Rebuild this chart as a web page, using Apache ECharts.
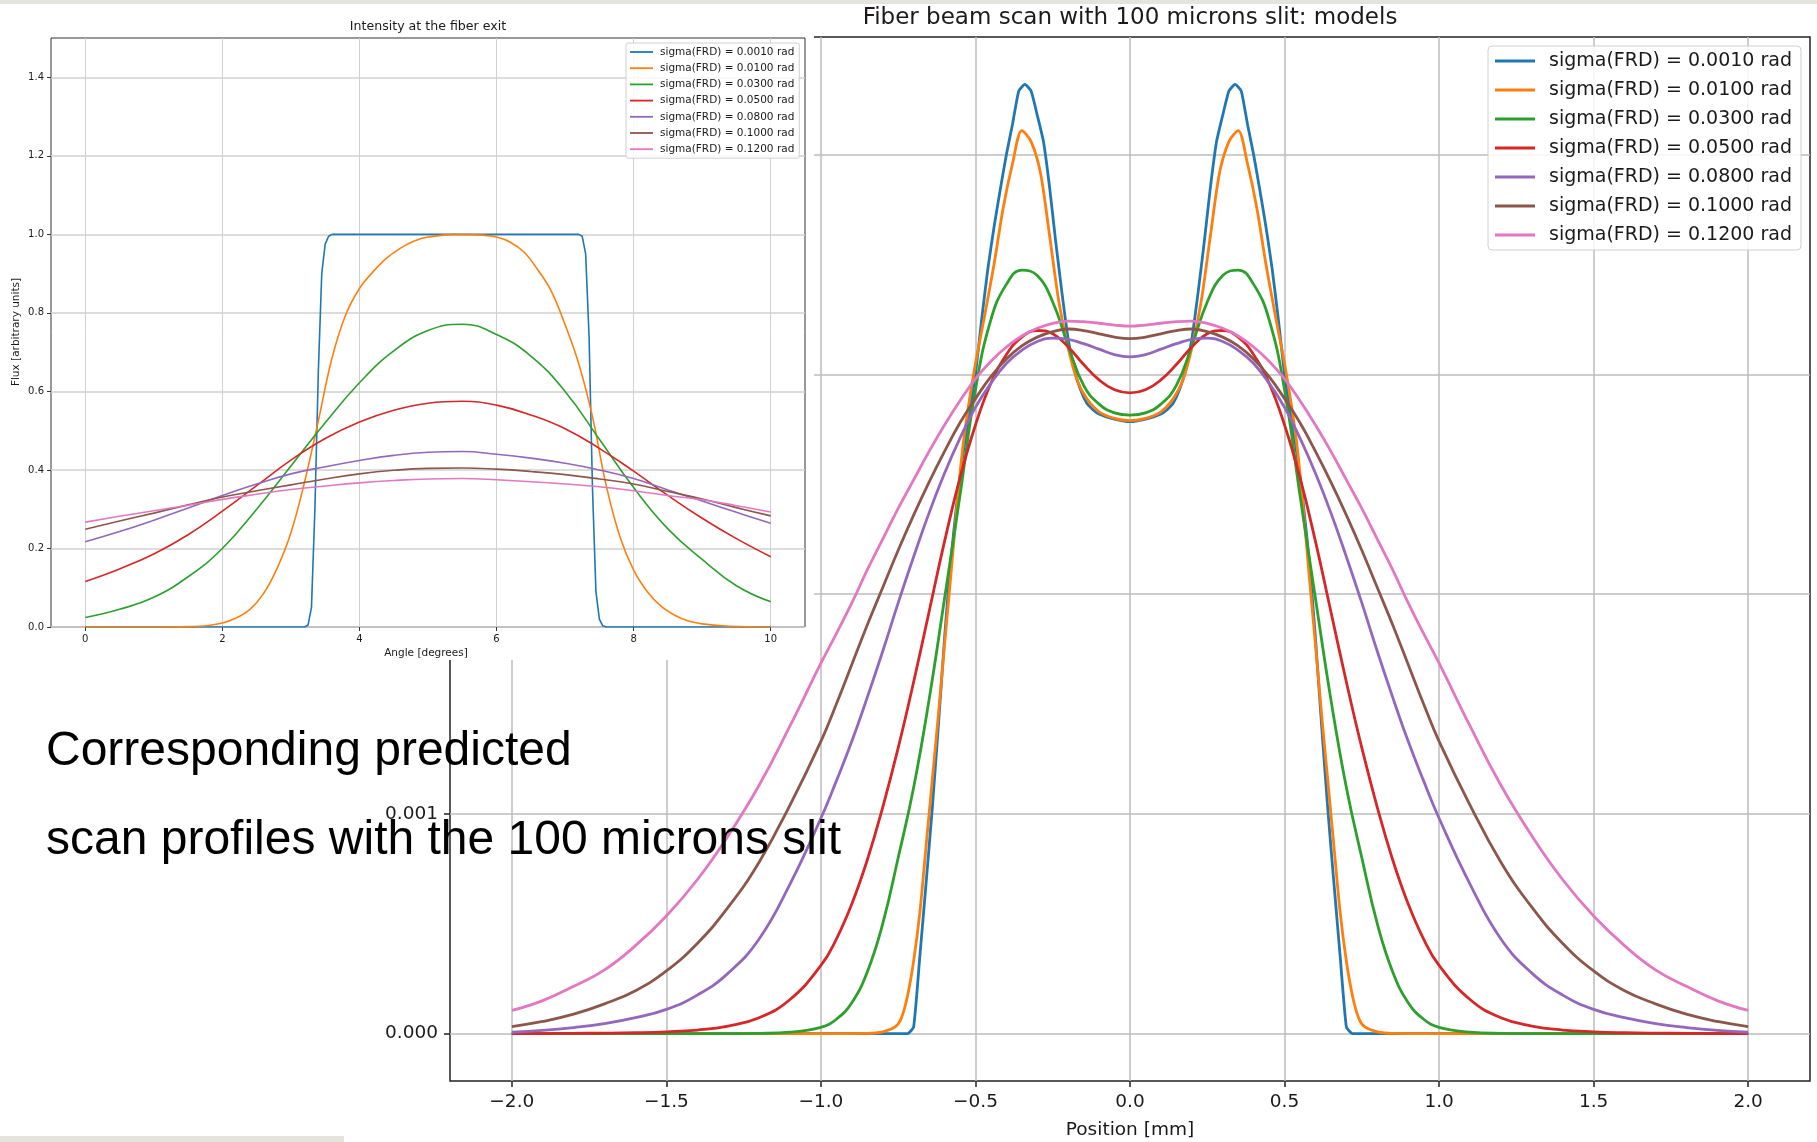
<!DOCTYPE html>
<html>
<head>
<meta charset="utf-8">
<title>Fiber beam scan</title>
<script src="https://cdn.jsdelivr.net/npm/echarts@6.0.0/dist/echarts.min.js"></script>
<style>
  body { margin: 0; background: #fff; }
  #scan { position: absolute; left: 0; top: 0; width: 1817px; height: 1142px; }
  #fiber { position: absolute; left: 0; top: 0; width: 814px; height: 660px; background: #fff; }
  .strip { position: absolute; background: #e4e4dc; }
</style>
</head>
<body>
<div id="scan"></div>
<div id="fiber"></div>
<div class="strip" style="left:0;top:0;width:1817px;height:4px"></div>
<div class="strip" style="left:0;top:1136px;width:344px;height:6px"></div>
<script>
// tab10 colours, one per FRD value
const colors = ['#1f77b4', '#ff7f0e', '#2ca02c', '#d62728', '#9467bd', '#8c564b', '#e377c2'];
const labels = [
  'sigma(FRD) = 0.0010 rad', 'sigma(FRD) = 0.0100 rad', 'sigma(FRD) = 0.0300 rad',
  'sigma(FRD) = 0.0500 rad', 'sigma(FRD) = 0.0800 rad', 'sigma(FRD) = 0.1000 rad',
  'sigma(FRD) = 0.1200 rad'
];

// tick values
const angleTicks = [0, 2, 4, 6, 8, 10];
const fluxTicks = [0, 0.2, 0.4, 0.6, 0.8, 1.0, 1.2, 1.4];
const posTicks = [-2.0, -1.5, -1.0, -0.5, 0, 0.5, 1.0, 1.5, 2.0];
const scanTicks = [0, 0.001, 0.002, 0.003, 0.004];

// ---- left panel: intensity at the fiber exit (angle in degrees, flux) ----
const angle = [0, 0.5, 1, 1.5, 2, 2.5, 3, 3.5, 4, 4.5, 5, 5.5, 6, 6.5, 7, 7.5, 8, 8.5, 9, 9.5, 10];
const angleBlue = [0, 3.2, 3.25, 3.3, 3.35, 3.4, 3.45, 3.5, 3.55, 3.6, 7.2, 7.25, 7.3, 7.35, 7.4, 7.45, 7.5, 7.55, 7.6, 10];
const fluxBlue = [0, 0, 0.005, 0.05, 0.3, 0.65, 0.9, 0.975, 0.995, 1.0, 1.0, 0.995, 0.95, 0.74, 0.35, 0.09, 0.02, 0.003, 0, 0];
const angleOrange = [0, 1.0, 1.5, 1.8, 2.0, 2.2, 2.4, 2.6, 2.8, 3.0, 3.2, 3.4, 3.6, 3.8, 4.0, 4.2, 4.4, 4.6, 4.8, 5.0, 5.4,
  5.8, 6.0, 6.2, 6.4, 6.6, 6.8, 7.0, 7.2, 7.4, 7.6, 7.8, 8.0, 8.2, 8.4, 8.6, 8.8, 9.0, 9.4, 10];
const fluxOrange = [0, 0, 0.001, 0.004, 0.01, 0.023, 0.044, 0.085, 0.15, 0.24, 0.37, 0.525, 0.685, 0.795, 0.862, 0.905, 0.94, 0.965, 0.983, 0.993, 1.0,
  0.998, 0.993, 0.98, 0.955, 0.91, 0.855, 0.77, 0.67, 0.535, 0.36, 0.23, 0.145, 0.09, 0.053, 0.03, 0.015, 0.008, 0.002, 0];
const fluxGreen = [0.024, 0.045, 0.076, 0.128, 0.2, 0.3, 0.41, 0.52, 0.622, 0.703, 0.755, 0.771, 0.745, 0.69, 0.6, 0.478, 0.355, 0.25, 0.172, 0.105, 0.064];
const fluxRed = [0.116, 0.148, 0.186, 0.235, 0.295, 0.36, 0.425, 0.48, 0.522, 0.552, 0.57, 0.575, 0.565, 0.54, 0.505, 0.455, 0.397, 0.335, 0.277, 0.225, 0.179];
const fluxPurple = [0.217, 0.243, 0.272, 0.303, 0.335, 0.364, 0.39, 0.408, 0.424, 0.437, 0.445, 0.447, 0.44, 0.43, 0.417, 0.4, 0.378, 0.349, 0.321, 0.292, 0.264];
const fluxBrown = [0.249, 0.27, 0.29, 0.311, 0.331, 0.347, 0.362, 0.377, 0.39, 0.399, 0.404, 0.405, 0.402, 0.396, 0.388, 0.377, 0.364, 0.345, 0.326, 0.304, 0.283];
const fluxPink = [0.267, 0.282, 0.296, 0.31, 0.325, 0.338, 0.35, 0.359, 0.367, 0.373, 0.377, 0.378, 0.375, 0.37, 0.364, 0.357, 0.347, 0.335, 0.324, 0.309, 0.293];

// ---- right panel: scan profiles (position in mm, signal in units of 1e-3) ----
const SCAN_UNIT = 1e-3;
const posBlue = [-2.0, -0.72, -0.70, -0.68, -0.66, -0.64, -0.62, -0.60, -0.58, -0.56, -0.54, -0.52, -0.50, -0.48, -0.46, -0.44,
  -0.42, -0.40, -0.38, -0.36, -0.34, -0.32, -0.30, -0.28, -0.26, -0.24, -0.22, -0.20, -0.18, -0.16, -0.14, -0.12, -0.10, -0.06, 0,
  0.06, 0.10, 0.12, 0.14, 0.16, 0.18, 0.20, 0.22, 0.24, 0.26, 0.28, 0.30, 0.32, 0.34, 0.36, 0.38, 0.40, 0.42, 0.44, 0.46, 0.48,
  0.50, 0.52, 0.54, 0.56, 0.58, 0.60, 0.62, 0.64, 0.66, 0.68, 0.70, 0.72, 2.0];
const scanBlue = [0, 0, 0.03, 0.35, 0.68, 1.02, 1.4, 1.8, 2.15, 2.42, 2.64, 2.82, 3.0, 3.25, 3.48, 3.67,
  3.84, 4.0, 4.14, 4.29, 4.32, 4.29, 4.18, 4.06, 3.85, 3.6, 3.37, 3.16, 3.02, 2.93, 2.87, 2.84, 2.82, 2.8, 2.785,
  2.8, 2.82, 2.84, 2.87, 2.93, 3.02, 3.16, 3.37, 3.6, 3.85, 4.06, 4.18, 4.29, 4.32, 4.29, 4.14, 4.0, 3.84, 3.67, 3.48, 3.25,
  3.0, 2.82, 2.64, 2.42, 2.15, 1.8, 1.4, 1.02, 0.68, 0.35, 0.03, 0, 0];
const posOrange = [-2.0, -1.0, -0.85, -0.8, -0.76, -0.74, -0.72, -0.70, -0.68, -0.66, -0.64, -0.62, -0.60, -0.58, -0.56, -0.54,
  -0.52, -0.50, -0.47, -0.44, -0.41, -0.38, -0.35, -0.32, -0.29, -0.26, -0.23, -0.20, -0.17, -0.14, -0.10, -0.05, 0,
  0.05, 0.10, 0.14, 0.17, 0.20, 0.23, 0.26, 0.29, 0.32, 0.35, 0.38, 0.41, 0.44, 0.47, 0.50, 0.52, 0.54, 0.56, 0.58, 0.60,
  0.62, 0.64, 0.66, 0.68, 0.70, 0.72, 0.74, 0.76, 0.8, 0.85, 1.0, 2.0];
const scanOrange = [0, 0, 0.001, 0.008, 0.03, 0.07, 0.17, 0.33, 0.55, 0.85, 1.15, 1.45, 1.77, 2.08, 2.4, 2.68,
  2.88, 3.05, 3.27, 3.5, 3.76, 3.96, 4.11, 4.06, 3.92, 3.63, 3.33, 3.12, 2.97, 2.89, 2.83, 2.8, 2.79,
  2.8, 2.83, 2.89, 2.97, 3.12, 3.33, 3.63, 3.92, 4.06, 4.11, 3.96, 3.76, 3.5, 3.27, 3.05, 2.88, 2.68, 2.4, 2.08, 1.77,
  1.45, 1.15, 0.85, 0.55, 0.33, 0.17, 0.07, 0.03, 0.008, 0.001, 0, 0];
const scanPos = [-2.0, -1.9, -1.8, -1.7, -1.6, -1.5, -1.4, -1.3, -1.2, -1.1, -1.0, -0.95, -0.9, -0.85, -0.8, -0.75, -0.7,
  -0.65, -0.6, -0.55, -0.5, -0.45, -0.4, -0.35, -0.3, -0.25, -0.2, -0.15, -0.1, -0.05, 0,
  0.05, 0.1, 0.15, 0.2, 0.25, 0.3, 0.35, 0.4, 0.45, 0.5, 0.55, 0.6, 0.65, 0.7, 0.75, 0.8, 0.85, 0.9, 0.95,
  1.0, 1.1, 1.2, 1.3, 1.4, 1.5, 1.6, 1.7, 1.8, 1.9, 2.0];
const scanGreen = [0, 0, 0, 0, 0, 0, 0, 0, 0.001, 0.006, 0.028, 0.065, 0.14, 0.28, 0.5, 0.8, 1.12,
  1.52, 1.98, 2.45, 2.93, 3.25, 3.41, 3.475, 3.45, 3.33, 3.13, 2.95, 2.865, 2.825, 2.815,
  2.825, 2.865, 2.95, 3.13, 3.33, 3.45, 3.475, 3.41, 3.25, 2.93, 2.45, 1.98, 1.52, 1.12, 0.8, 0.5, 0.28, 0.14, 0.065,
  0.028, 0.006, 0.001, 0, 0, 0, 0, 0, 0, 0, 0];
const scanRed = [0, 0, 0.001, 0.002, 0.004, 0.008, 0.016, 0.034, 0.072, 0.155, 0.31, 0.43, 0.59, 0.79, 1.03, 1.3, 1.6,
  1.92, 2.24, 2.53, 2.77, 2.96, 3.09, 3.17, 3.2, 3.185, 3.125, 3.045, 2.975, 2.93, 2.916,
  2.93, 2.975, 3.045, 3.125, 3.185, 3.2, 3.17, 3.09, 2.96, 2.77, 2.53, 2.24, 1.92, 1.6, 1.3, 1.03, 0.79, 0.59, 0.43,
  0.31, 0.155, 0.072, 0.034, 0.016, 0.008, 0.004, 0.002, 0.001, 0, 0];
const scanPurple = [0.006, 0.014, 0.027, 0.045, 0.072, 0.11, 0.175, 0.275, 0.43, 0.68, 0.98, 1.15, 1.33, 1.53, 1.74, 1.96, 2.17,
  2.37, 2.55, 2.71, 2.85, 2.96, 3.05, 3.11, 3.15, 3.165, 3.16, 3.14, 3.115, 3.09, 3.08,
  3.09, 3.115, 3.14, 3.16, 3.165, 3.15, 3.11, 3.05, 2.96, 2.85, 2.71, 2.55, 2.37, 2.17, 1.96, 1.74, 1.53, 1.33, 1.15,
  0.98, 0.68, 0.43, 0.275, 0.175, 0.11, 0.072, 0.045, 0.027, 0.014, 0.006];
const scanBrown = [0.032, 0.055, 0.088, 0.135, 0.195, 0.285, 0.41, 0.575, 0.78, 1.04, 1.33, 1.5, 1.68, 1.86, 2.03, 2.2, 2.36,
  2.51, 2.65, 2.78, 2.89, 2.99, 3.07, 3.13, 3.17, 3.195, 3.207, 3.2, 3.185, 3.17, 3.163,
  3.17, 3.185, 3.2, 3.207, 3.195, 3.17, 3.13, 3.07, 2.99, 2.89, 2.78, 2.65, 2.51, 2.36, 2.2, 2.03, 1.86, 1.68, 1.5,
  1.33, 1.04, 0.78, 0.575, 0.41, 0.285, 0.195, 0.135, 0.088, 0.055, 0.032];
const scanPink = [0.105, 0.15, 0.215, 0.29, 0.40, 0.535, 0.70, 0.9, 1.13, 1.40, 1.686, 1.82, 1.96, 2.11, 2.25, 2.39, 2.52,
  2.65, 2.77, 2.88, 2.98, 3.06, 3.125, 3.175, 3.21, 3.233, 3.243, 3.24, 3.233, 3.225, 3.22,
  3.225, 3.233, 3.24, 3.243, 3.233, 3.21, 3.175, 3.125, 3.06, 2.98, 2.88, 2.77, 2.65, 2.52, 2.39, 2.25, 2.11, 1.96, 1.82,
  1.686, 1.40, 1.13, 0.9, 0.70, 0.535, 0.40, 0.29, 0.215, 0.15, 0.105];

function pairs(xs, ys, k) {
  return xs.map(function (x, i) { return [x, ys[i] * (k || 1)]; });
}

const MPL = 'DejaVu Sans';
const ink = '#1a1a1a';

// --------- right: scan with the 100 micron slit ---------
const scanLines = [
  [posBlue, scanBlue, 0.15], [posOrange, scanOrange, 0.3], [scanPos, scanGreen, 0.45], [scanPos, scanRed, 0.45],
  [scanPos, scanPurple, 0.45], [scanPos, scanBrown, 0.45], [scanPos, scanPink, 0.45]
];

const scanChart = echarts.init(document.getElementById('scan'));
scanChart.setOption({
  animation: false,
  grid: {
    left: 450, right: 7, top: 37, bottom: 61,
    show: true, borderColor: '#222', borderWidth: 1.5,
    containLabel: false, outerBoundsMode: 'none'
  },
  xAxis: {
    type: 'value', min: -2.2, max: 2.2, splitNumber: 9,
    axisLine: { show: false, onZero: false },
    axisTick: { show: true, inside: false, length: 6, customValues: posTicks, lineStyle: { color: '#222', width: 1.5 } },
    axisLabel: {
      margin: 12, fontSize: 18.5, fontFamily: MPL, color: ink, customValues: posTicks,
      formatter: function (v) {
        return (v < -1e-9 ? '\u2212' : '') + Math.abs(v).toFixed(1);
      }
    },
    splitLine: { show: true, lineStyle: { color: '#bdbdbd', width: 1.5 } }
  },
  yAxis: {
    type: 'value', min: -0.000216, max: 0.004536, splitNumber: 5,
    axisLine: { show: false, onZero: false },
    axisTick: { show: true, inside: false, length: 6, customValues: scanTicks, lineStyle: { color: '#222', width: 1.5 } },
    axisLabel: {
      margin: 12, fontSize: 18.5, fontFamily: MPL, color: ink, customValues: scanTicks,
      formatter: function (v) { return v.toFixed(3); }
    },
    splitLine: { show: true, lineStyle: { color: '#bdbdbd', width: 1.5 } }
  },
  legend: {
    orient: 'vertical', left: 1488, top: 46,
    padding: [5, 9, 5, 7], itemGap: 9,
    icon: 'rect', itemWidth: 40, itemHeight: 3,
    backgroundColor: 'rgba(255,255,255,0.85)', borderColor: '#d0d0d0', borderWidth: 1, borderRadius: 4,
    textStyle: { fontSize: 19, fontFamily: MPL, color: ink, lineHeight: 20, padding: [0, 0, 0, 9] },
    data: labels
  },
  graphic: [
    { type: 'text', x: 1130, y: 18, style: { text: 'Fiber beam scan with 100 microns slit: models',
      fontSize: 23, fontFamily: MPL, fill: ink, align: 'center', verticalAlign: 'middle' } },
    { type: 'text', x: 1130, y: 1130, style: { text: 'Position [mm]',
      fontSize: 18.5, fontFamily: MPL, fill: ink, align: 'center', verticalAlign: 'middle' } },
    { type: 'text', x: 46, y: 752, z: 100, style: { text: 'Corresponding predicted',
      fontSize: 48, fontFamily: 'Liberation Sans', fill: '#000', align: 'left', verticalAlign: 'middle' } },
    { type: 'text', x: 46, y: 841, z: 100, style: { text: 'scan profiles with the 100 microns slit',
      fontSize: 48, fontFamily: 'Liberation Sans', fill: '#000', align: 'left', verticalAlign: 'middle' } }
  ],
  series: scanLines.map(function (d, i) {
    return {
      name: labels[i], type: 'line', symbol: 'none', showSymbol: false,
      smooth: d[2],
      data: pairs(d[0], d[1], SCAN_UNIT),
      lineStyle: { width: 2.8, color: colors[i] }, itemStyle: { color: colors[i] },
      z: 2 + i
    };
  })
});

// --------- left: intensity at the fiber exit ---------
const fiberLines = [
  [angleBlue, fluxBlue, false], [angleOrange, fluxOrange, 0.4], [angle, fluxGreen, 0.45], [angle, fluxRed, 0.45],
  [angle, fluxPurple, 0.45], [angle, fluxBrown, 0.45], [angle, fluxPink, 0.45]
];

const fiberChart = echarts.init(document.getElementById('fiber'));
fiberChart.setOption({
  animation: false,
  grid: {
    left: 51, right: 9, top: 38, bottom: 33,
    show: true, borderColor: '#333', borderWidth: 1,
    containLabel: false, outerBoundsMode: 'none'
  },
  xAxis: {
    type: 'value', min: -0.5, max: 10.5, splitNumber: 5,
    axisLine: { show: false, onZero: false },
    axisTick: { show: true, inside: false, length: 4, customValues: angleTicks, lineStyle: { color: '#333' } },
    axisLabel: {
      margin: 7, fontSize: 10, fontFamily: MPL, color: ink, customValues: angleTicks,
      formatter: function (v) { return String(v); }
    },
    splitLine: { show: true, lineStyle: { color: '#d0d0d0', width: 1 } }
  },
  yAxis: {
    type: 'value', min: 0, max: 1.5, interval: 0.2,
    axisLine: { show: false, onZero: false },
    axisTick: { show: true, inside: false, length: 4, customValues: fluxTicks, lineStyle: { color: '#333' } },
    axisLabel: {
      margin: 7, fontSize: 10, fontFamily: MPL, color: ink, customValues: fluxTicks,
      formatter: function (v) { return v.toFixed(1); }
    },
    splitLine: { show: true, lineStyle: { color: '#d0d0d0', width: 1.5 } }
  },
  legend: {
    orient: 'vertical', left: 626, top: 43,
    padding: [3, 5, 3, 4], itemGap: 4.2,
    icon: 'rect', itemWidth: 23, itemHeight: 1.8,
    backgroundColor: 'rgba(255,255,255,0.85)', borderColor: '#d0d0d0', borderWidth: 1, borderRadius: 2,
    textStyle: { fontSize: 10.5, fontFamily: MPL, color: ink, lineHeight: 12, padding: [0, 0, 0, 2] },
    data: labels
  },
  graphic: [
    { type: 'text', x: 428, y: 27, style: { text: 'Intensity at the fiber exit',
      fontSize: 12.6, fontFamily: MPL, fill: ink, align: 'center', verticalAlign: 'middle' } },
    { type: 'text', x: 426, y: 653, style: { text: 'Angle [degrees]',
      fontSize: 10.5, fontFamily: MPL, fill: ink, align: 'center', verticalAlign: 'middle' } },
    { type: 'text', x: 16, y: 332, rotation: Math.PI / 2, style: { text: 'Flux [arbitrary units]',
      fontSize: 10.5, fontFamily: MPL, fill: ink, align: 'center', verticalAlign: 'middle' } }
  ],
  series: fiberLines.map(function (d, i) {
    return {
      name: labels[i], type: 'line', symbol: 'none', showSymbol: false,
      smooth: d[2],
      data: pairs(d[0], d[1]),
      lineStyle: { width: 1.6, color: colors[i] }, itemStyle: { color: colors[i] },
      z: 2 + i
    };
  })
});
</script>
</body>
</html>
